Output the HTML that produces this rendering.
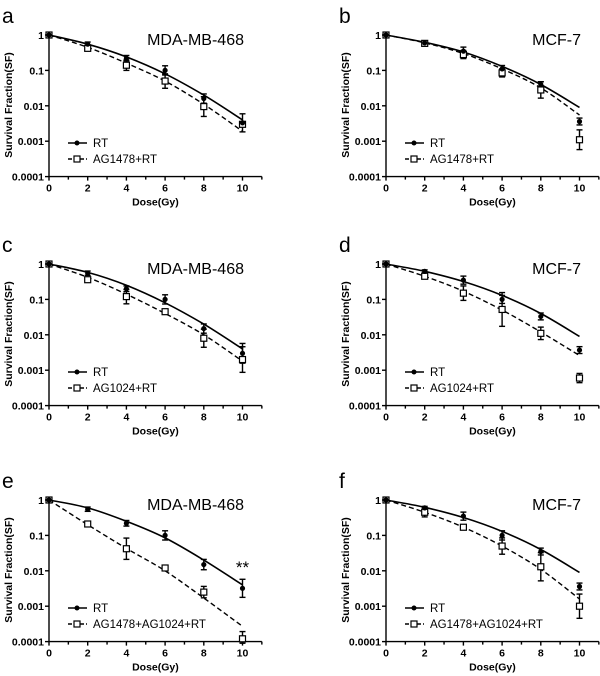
<!DOCTYPE html>
<html><head><meta charset="utf-8"><style>
html,body{margin:0;padding:0;background:#fff;}
svg{display:block;font-family:"Liberation Sans",Arial,sans-serif;}
</style></head><body>
<svg id="fig" width="600" height="676" viewBox="0 0 600 676" xmlns="http://www.w3.org/2000/svg"></svg>
<script>
// ---- data (dose 0..10 step 2) ----
const doses = [0, 2, 4, 6, 8, 10];
const xTicks = [0, 2, 4, 6, 8, 10];
const yTickLabels = ["1", "0.1", "0.01", "0.001", "0.0001"];
const yTickValues = [1, 0.1, 0.01, 0.001, 0.0001];
const panelLetters = ["a", "b", "c", "d", "e", "f"];
const panelTitles = ["MDA-MB-468", "MCF-7", "MDA-MB-468", "MCF-7", "MDA-MB-468", "MCF-7"];
const treatLabels = ["AG1478+RT", "AG1478+RT", "AG1024+RT", "AG1024+RT", "AG1478+AG1024+RT", "AG1478+AG1024+RT"];
// RT measured points
const rtA = [1, 0.55, 0.22, 0.1, 0.016, 0.0033];
const rtB = [1, 0.6, 0.35, 0.11, 0.04, 0.0036];
const rtC = [1, 0.55, 0.2, 0.1, 0.015, 0.003];
const rtD = [1, 0.62, 0.35, 0.1, 0.033, 0.0037];
const rtE = [1, 0.55, 0.22, 0.1, 0.015, 0.0032];
const rtF = [1, 0.6, 0.35, 0.1, 0.035, 0.0036];
// treatment measured points
const agA = [1, 0.42, 0.14, 0.05, 0.0095, 0.003];
const agB = [1, 0.58, 0.28, 0.085, 0.028, 0.0011];
const agC = [1, 0.36, 0.12, 0.045, 0.008, 0.002];
const agD = [1, 0.45, 0.15, 0.052, 0.011, 0.0006];
const agE = [1, 0.21, 0.042, 0.012, 0.0025, 0.00012];
const agF = [1, 0.45, 0.17, 0.05, 0.013, 0.001];
// fitted curve values at doses
const rtFitA = [1, 0.55, 0.24, 0.08, 0.02, 0.004];
const rtFitB = [1, 0.62, 0.33, 0.13, 0.04, 0.009];
const rtFitC = [1, 0.58, 0.25, 0.08, 0.02, 0.004];
const rtFitD = [1, 0.62, 0.32, 0.13, 0.04, 0.009];
const rtFitE = [1, 0.6, 0.25, 0.085, 0.02, 0.004];
const rtFitF = [1, 0.62, 0.32, 0.13, 0.04, 0.009];
const agFitA = [1, 0.45, 0.16, 0.05, 0.011, 0.0019];
const agFitB = [1, 0.6, 0.3, 0.11, 0.032, 0.0055];
const agFitC = [1, 0.42, 0.14, 0.04, 0.01, 0.0018];
const agFitD = [1, 0.45, 0.17, 0.05, 0.012, 0.0026];
const agFitE = [1, 0.2, 0.043, 0.01, 0.0017, 0.00027];
const agFitF = [1, 0.45, 0.17, 0.05, 0.011, 0.0016];
// error bar spread (log-symmetric factor: value*(1+e) .. value/(1+e))
const rtErrA = [0, 0.15, 0.2, 0.35, 0.35, 0.8];
const rtErrB = [0, 0.1, 0.3, 0.25, 0.2, 0.25];
const rtErrC = [0, 0.15, 0.2, 0.35, 0.35, 0.9];
const rtErrD = [0, 0.1, 0.3, 0.3, 0.25, 0.25];
const rtErrE = [0, 0.15, 0.2, 0.35, 0.4, 0.8];
const rtErrF = [0, 0.1, 0.3, 0.35, 0.25, 0.25];
const agErrA = [0, 0.1, 0.4, 0.6, 0.9, 0.15];
const agErrB = [0, 0.1, 0.3, 0.3, 0.7, 0.9];
const agErrC = [0, 0.15, 0.6, 0.1, 0.8, 1.3];
const agErrD = [0, 0.1, 0.6, 2.0, 0.5, 0.35];
const agErrE = [0, 0.05, 1.0, 0.15, 0.45, 0.6];
const agErrF = [0, 0.35, 0.1, 0.7, 1.5, 1.2];

const rtPts = [rtA, rtB, rtC, rtD, rtE, rtF];
const agPts = [agA, agB, agC, agD, agE, agF];
const rtFits = [rtFitA, rtFitB, rtFitC, rtFitD, rtFitE, rtFitF];
const agFits = [agFitA, agFitB, agFitC, agFitD, agFitE, agFitF];
const rtErrs = [rtErrA, rtErrB, rtErrC, rtErrD, rtErrE, rtErrF];
const agErrs = [agErrA, agErrB, agErrC, agErrD, agErrE, agErrF];

const NS = "http://www.w3.org/2000/svg";
const svg = document.getElementById("fig");
function mk(tag, attrs, parent, text) {
  const e = document.createElementNS(NS, tag);
  for (const k in attrs) e.setAttribute(k, attrs[k]);
  if (text !== undefined) e.textContent = text;
  (parent || svg).appendChild(e);
  return e;
}
const colX = [49, 386];
const rowY = [35, 264, 500];
const unitX = 19.35;
const decade = 35.4;

function smoothPath(pts) {
  let d = "M" + pts[0][0] + "," + pts[0][1];
  for (let i = 0; i < pts.length - 1; i++) {
    const p0 = pts[Math.max(0, i - 1)], p1 = pts[i], p2 = pts[i + 1], p3 = pts[Math.min(pts.length - 1, i + 2)];
    const c1x = p1[0] + (p2[0] - p0[0]) / 6, c1y = p1[1] + (p2[1] - p0[1]) / 6;
    const c2x = p2[0] - (p3[0] - p1[0]) / 6, c2y = p2[1] - (p3[1] - p1[1]) / 6;
    d += " C" + c1x.toFixed(1) + "," + c1y.toFixed(1) + " " + c2x.toFixed(1) + "," + c2y.toFixed(1) + " " + p2[0].toFixed(1) + "," + p2[1].toFixed(1);
  }
  return d;
}

for (let p = 0; p < 6; p++) {
  const ox = colX[p % 2], oy = rowY[Math.floor(p / 2)];
  const xs = v => ox + v * unitX;
  const ys = v => oy - Math.log10(v) * decade;
  const bottom = ys(0.0001);
  const g = mk("g", {});
  
  
  const lt = mk("text", {x: ox - 47, y: oy - 12, "font-size": 21}, g, panelLetters[p]);
  
  
  const tt = mk("text", {x: ox + 195, y: oy + 10, "font-size": 16, "text-anchor": "end"}, g, panelTitles[p]);
  
  
  const ax = mk("g", {stroke: "#000", "stroke-width": 1.4, fill: "none"}, g);
  
  
  mk("line", {x1: ox, y1: oy - 3, x2: ox, y2: bottom}, ax);
  mk("line", {x1: ox, y1: bottom, x2: xs(11), y2: bottom}, ax);
  for (let t = 0; t <= 11; t++) mk("line", {x1: xs(t), y1: bottom, x2: xs(t), y2: bottom + (t % 2 === 0 ? 4 : 3)}, ax);
  yTickValues.forEach((v, i) => {
    mk("line", {x1: ox - 4, y1: ys(v), x2: ox, y2: ys(v)}, ax);
    const yl = mk("text", {x: ox - 5, y: ys(v) + 4, "font-size": 10.5, "font-weight": "bold", "text-anchor": "end"}, g, yTickLabels[i]);
    
    
  });
  xTicks.forEach(v => {
    const xl = mk("text", {x: xs(v), y: bottom + 15, "font-size": 10.5, "font-weight": "bold", "text-anchor": "middle"}, g, String(v));
    
    
  });
  const xt = mk("text", {x: xs(5.5), y: bottom + 29, "font-size": 10.5, "font-weight": "bold", "text-anchor": "middle"}, g, "Dose(Gy)");
  
  
  const yt = mk("text", {x: 0, y: 0, "font-size": 10.5, "font-weight": "bold", "text-anchor": "middle", transform: "translate(" + (ox - 37) + "," + (oy + 70) + ") rotate(-90)"}, g, "Survival Fraction(SF)");
  
  
  const rf = mk("path", {d: smoothPath(doses.map((d, i) => [xs(d), ys(rtFits[p][i])])), stroke: "#000", "stroke-width": 1.6, fill: "none"}, g);
  
  
  const af = mk("path", {d: smoothPath(doses.map((d, i) => [xs(d), ys(agFits[p][i])])), stroke: "#000", "stroke-width": 1.4, fill: "none", "stroke-dasharray": "5,3"}, g);
  
  
  function errbar(x, v, e) {
    if (e <= 0) return;
    const hi = v * (1 + e), lo = Math.max(v / (1 + e), 0.00009);
    mk("line", {x1: x, y1: ys(hi), x2: x, y2: ys(lo), stroke: "#000", "stroke-width": 1.4}, g);
    mk("line", {x1: x - 3, y1: ys(hi), x2: x + 3, y2: ys(hi), stroke: "#000", "stroke-width": 1.4}, g);
    mk("line", {x1: x - 3, y1: ys(lo), x2: x + 3, y2: ys(lo), stroke: "#000", "stroke-width": 1.4}, g);
  }
  doses.forEach((d, i) => {
    errbar(xs(d), rtPts[p][i], rtErrs[p][i]);
    errbar(xs(d), agPts[p][i], agErrs[p][i]);
    const sq = mk("rect", {x: xs(d) - 3, y: ys(agPts[p][i]) - 3, width: 6, height: 6, fill: "#fff", stroke: "#000", "stroke-width": 1.2}, g);
    
    
    const c = mk("circle", {cx: xs(d), cy: ys(rtPts[p][i]), r: 2.6, fill: "#000"}, g);
    
    
  });
  const lg = mk("g", {}, g);
  
  
  const ly1 = oy + 108, ly2 = oy + 124;
  mk("line", {x1: ox + 19, y1: ly1, x2: ox + 38, y2: ly1, stroke: "#000", "stroke-width": 1.6}, lg);
  mk("circle", {cx: ox + 28, cy: ly1, r: 2.5, fill: "#000"}, lg);
  mk("text", {x: ox + 44, y: ly1 + 4, "font-size": 11.5}, lg, "RT");
  mk("line", {x1: ox + 19, y1: ly2, x2: ox + 38, y2: ly2, stroke: "#000", "stroke-width": 1.4, "stroke-dasharray": "4,2"}, lg);
  mk("rect", {x: ox + 25, y: ly2 - 3, width: 6, height: 6, fill: "#fff", stroke: "#000", "stroke-width": 1.2}, lg);
  mk("text", {x: ox + 44, y: ly2 + 4, "font-size": 11.5}, lg, treatLabels[p]);
  if (p === 4) {
    const st = mk("text", {x: xs(10), y: ys(0.01) + 2, "font-size": 17, "text-anchor": "middle"}, g, "**");
    
    
  }
}
</script>
</body></html>
